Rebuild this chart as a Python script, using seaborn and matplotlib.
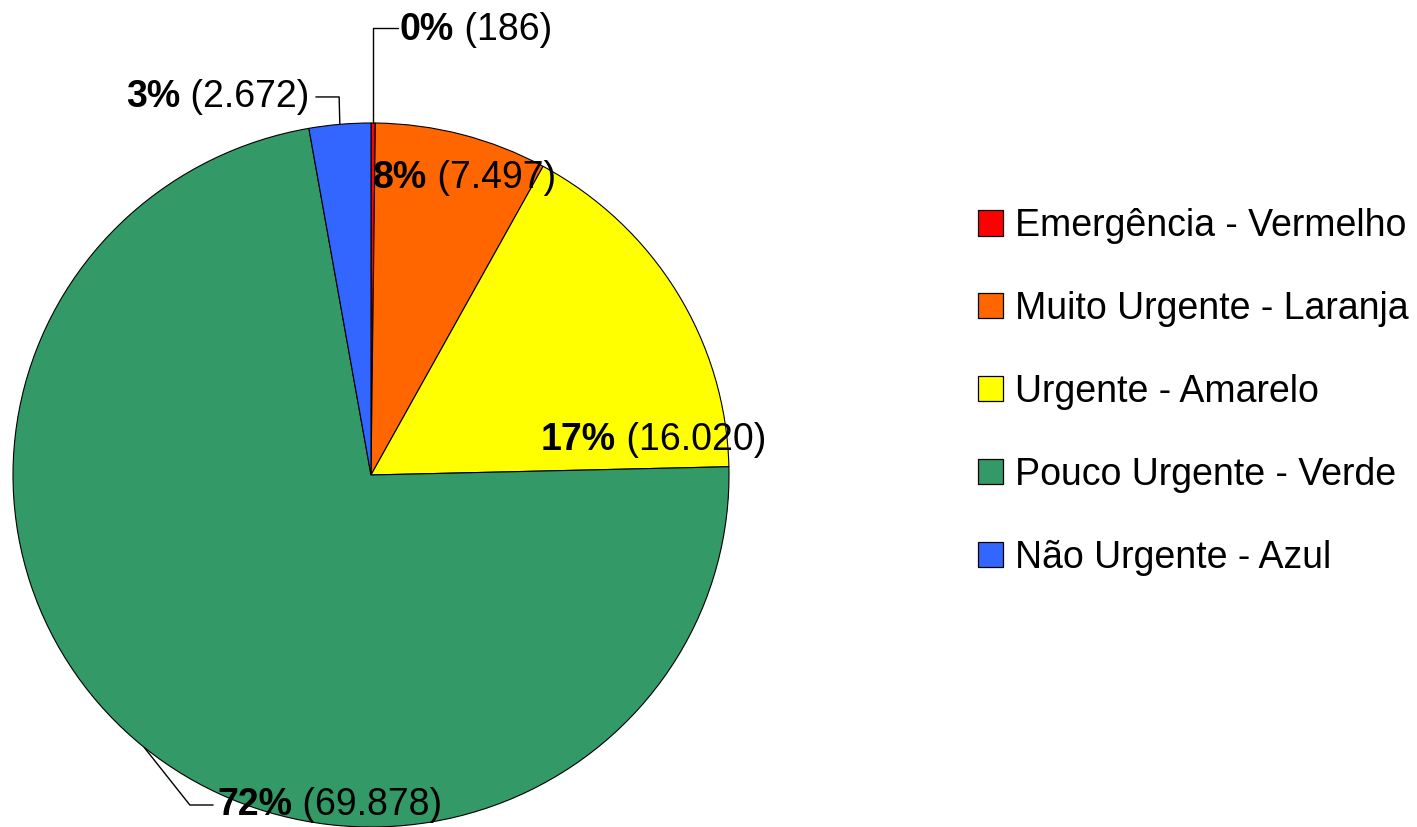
import numpy as np
import matplotlib
matplotlib.use('Agg')
import matplotlib.pyplot as plt
import matplotlib.patches as mpatches
import seaborn as sns

categorias = ['Emergência - Vermelho', 'Muito Urgente - Laranja', 'Urgente - Amarelo',
              'Pouco Urgente - Verde', 'Não Urgente - Azul']
valores = [186, 7497, 16020, 69878, 2672]
rotulos_pct = ['0%', '8%', '17%', '72%', '3%']
rotulos_valor = ['(186)', '(7.497)', '(16.020)', '(69.878)', '(2.672)']
cores = ['#FF0000', '#FF6600', '#FFFF00', '#339966', '#3366FF']

sns.set_theme(style='white')
plt.rcParams['font.family'] = ['Liberation Sans', 'DejaVu Sans']
plt.rcParams['text.color'] = 'black'

fig = plt.figure(figsize=(14.17, 8.27), dpi=100)
# area da pizza em pixels: x 13..729, y 123..827
ax = fig.add_axes([13 / 1417, 0, 716 / 1417, 704 / 827])

wedges, _ = ax.pie(valores, colors=cores, startangle=90, counterclock=False,
                   wedgeprops=dict(edgecolor='black', linewidth=0.8))
ax.set_aspect('auto')
ax.set_xlim(-1, 1)
ax.set_ylim(-1, 1)
ax.axis('off')

FS = 27


def rotulo(x, y, i, ha='left'):
    if ha == 'left':
        t = ax.text(x, y, rotulos_pct[i], fontsize=FS, fontweight='bold', ha='left', va='center')
        ax.annotate(' ' + rotulos_valor[i], xy=(1, 0), xycoords=t, fontsize=FS,
                    ha='left', va='bottom')
    else:
        t = ax.text(x, y, ' ' + rotulos_valor[i], fontsize=FS, ha='right', va='center')
        ax.annotate(rotulos_pct[i], xy=(0, 0), xycoords=t, fontsize=FS, fontweight='bold',
                    ha='right', va='bottom')


def ponto_medio(w, r=1.0):
    ang = np.deg2rad((w.theta1 + w.theta2) / 2)
    return r * np.cos(ang), r * np.sin(ang)


# 0% - linha guia para cima e para a direita
x0, y0 = ponto_medio(wedges[0])
ax.plot([x0, x0, 0.075], [y0, 1.269, 1.269], color='black', lw=1.0, clip_on=False)
rotulo(0.081, 1.264, 0)

# 8% e 17% dentro da pizza
rotulo(0.004, 0.844, 1)
rotulo(0.475, 0.099, 2)

# 72% - linha guia para baixo e para a direita
x3, y3 = ponto_medio(wedges[3])
ax.plot([x3, -0.506, -0.441], [y3, -0.9375, -0.9375], color='black', lw=1.0, clip_on=False)
rotulo(-0.430, -0.9375, 3)

# 3% - linha guia para cima e para a esquerda
x4, y4 = ponto_medio(wedges[4])
ax.plot([x4, -0.089, -0.154], [y4, 1.074, 1.074], color='black', lw=1.0, clip_on=False)
rotulo(-0.172, 1.074, 4, ha='right')

handles = [mpatches.Patch(facecolor=c, edgecolor='black', linewidth=0.9) for c in cores]
fig.legend(handles, categorias, loc='upper left', bbox_to_anchor=(978 / 1417, 1 - 208 / 827),
           frameon=False, fontsize=FS, handlelength=0.67, handleheight=0.67,
           handletextpad=0.32, labelspacing=1.25, borderpad=0, borderaxespad=0)

fig.savefig('out.png', dpi=100)
